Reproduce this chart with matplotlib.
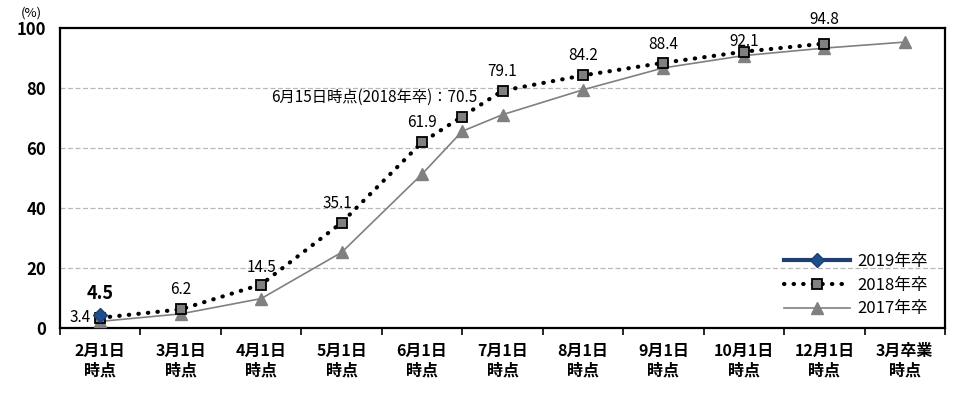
import matplotlib
matplotlib.use("Agg")
import matplotlib.pyplot as plt

plt.rcParams['font.family'] = ['Noto Sans CJK JP', 'DejaVu Sans']

# categories on the x axis (6/15 sits between 6/1 and 7/1)
categories = ["2月1日\n時点", "3月1日\n時点", "4月1日\n時点", "5月1日\n時点", "6月1日\n時点",
              "7月1日\n時点", "8月1日\n時点", "9月1日\n時点", "10月1日\n時点", "12月1日\n時点",
              "3月卒業\n時点"]
x_2017 = [0, 1, 2, 3, 4, 4.5, 5, 6, 7, 8, 9, 10]
y_2017 = [2.2, 4.7, 9.8, 25.2, 51.3, 65.6, 71.1, 79.4, 86.7, 90.8, 93.3, 95.3]
x_2018 = [0, 1, 2, 3, 4, 4.5, 5, 6, 7, 8, 9]
y_2018 = [3.4, 6.2, 14.5, 35.1, 61.9, 70.5, 79.1, 84.2, 88.4, 92.1, 94.8]
x_2019 = [0]
y_2019 = [4.5]

fig = plt.figure(figsize=(9.64, 3.94), dpi=100)
ax = fig.add_axes([60/964, 1-328/394, 885/964, 300/394])

ax.plot(x_2017, y_2017, color="#808080", lw=1.2, marker="^", ms=8,
        mfc="#808080", mec="#808080", label="2017年卒", zorder=3)
ax.plot(x_2018, y_2018, color="black", lw=3, linestyle=(0, (0.1, 2.2)),
        dash_capstyle="round", marker="s", ms=7.5, mfc="#808080", mec="black",
        mew=1.3, label="2018年卒", zorder=4)
ax.plot(x_2019, y_2019, color="#1F3F73", lw=3, marker="D", ms=7,
        mfc="#1F4E8C", mec="#1F3F73", label="2019年卒", zorder=5)

# label offsets (points) for the 2018 values
offsets = [(-7, 0), (0, 14), (0, 12.5), (-3, 14), (0, 14), (11, 14),
           (0, 14), (0, 14), (0, 13), (0, 7.5), (0, 17.5)]
for x, y, off in zip(x_2018, y_2018, offsets):
    if x == 0:
        ax.annotate(f"{y:.1f}", (x, y), xytext=off, textcoords="offset points",
                    ha="right", va="center", fontsize=11)
    elif x == 4.5:
        ax.annotate(f"6月15日時点(2018年卒)：{y:.1f}", (x, y), xytext=off,
                    textcoords="offset points", ha="right", va="center", fontsize=11)
    else:
        ax.annotate(f"{y:.1f}", (x, y), xytext=off, textcoords="offset points",
                    ha="center", va="center", fontsize=11, annotation_clip=False)
ax.annotate(f"{y_2019[0]:.1f}", (x_2019[0], y_2019[0]), xytext=(0, 15),
            textcoords="offset points", ha="center", va="center",
            fontsize=13, fontweight="bold")

ax.set_xlim(-0.5, 10.5)
ax.set_ylim(0, 100)
ax.set_yticks(range(0, 101, 20))
ax.tick_params(axis="y", length=0, labelsize=12, pad=10)
ax.set_xticks(range(len(categories)))
ax.set_xticklabels(categories, fontsize=11.5, fontweight="bold", linespacing=1.25)
ax.set_xticks([i - 0.5 for i in range(len(categories) + 1)], minor=True)
ax.tick_params(axis="x", which="major", length=0, pad=11)
ax.tick_params(axis="x", which="minor", length=5, width=1.2, direction="out")
for lab in ax.get_yticklabels():
    lab.set_fontweight("bold")

for y in [20, 40, 60, 80]:
    ax.axhline(y, color="#b8b8b8", lw=0.9, ls=(0, (4, 2)), zorder=1)
for s in ax.spines.values():
    s.set_linewidth(1.6)
    s.set_color("black")

fig.text(31/964, 1-13/394, "(%)", fontsize=9.5, ha="center", va="center")

handles, labels = ax.get_legend_handles_labels()
ax.legend(handles[::-1], labels[::-1], loc="lower right", frameon=False,
          fontsize=12, handlelength=4, labelspacing=0.4, handletextpad=0.4,
          bbox_to_anchor=(0.997, -0.015))

fig.savefig("out.png", dpi=100)
